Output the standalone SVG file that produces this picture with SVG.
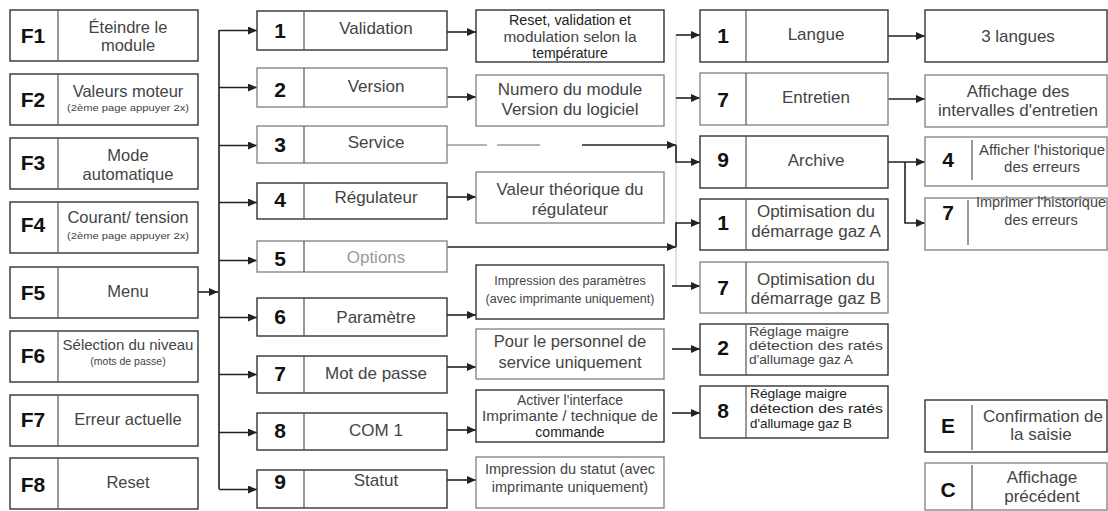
<svg xmlns="http://www.w3.org/2000/svg" width="1108" height="511" viewBox="0 0 1108 511">
<style>
.box{fill:#fff;stroke:#333;stroke-width:1.4}
.lt{stroke:#888}
.dv{stroke:#555;stroke-width:1.2}
.num{font-family:"Liberation Sans",Arial,sans-serif;font-weight:bold;font-size:21px;fill:#111;text-anchor:middle}
.lbl{font-family:"Liberation Sans",Arial,sans-serif;font-size:16.5px;fill:#444;text-anchor:middle}
.l17{font-size:17px}
.l14{font-size:14px}
.l13{font-size:13px}
.xs{font-size:9px}
.lft{text-anchor:start}
.cn{fill:none;stroke:#222;stroke-width:1.6}
.cg{fill:none;stroke:#999;stroke-width:1.4}
</style>
<defs>
<marker id="ah" markerUnits="userSpaceOnUse" markerWidth="9" markerHeight="8" refX="9" refY="4" orient="auto">
<path d="M0,0 L9,4 L0,8 z" fill="#222"/>
</marker>
</defs>
<rect width="1108" height="511" fill="#fff"/>

<g id="connectors">
<path class="cn" d="M219,30 V489"/>
<path class="cn" d="M198,292 H218" marker-end="url(#ah)"/>
<path class="cn" d="M219,30.5 H257" marker-end="url(#ah)"/>
<path class="cn" d="M219,87.5 H257" marker-end="url(#ah)"/>
<path class="cn" d="M219,145.5 H257" marker-end="url(#ah)"/>
<path class="cn" d="M219,202.5 H257" marker-end="url(#ah)"/>
<path class="cn" d="M219,260.5 H257" marker-end="url(#ah)"/>
<path class="cn" d="M219,317.5 H257" marker-end="url(#ah)"/>
<path class="cn" d="M219,374.5 H257" marker-end="url(#ah)"/>
<path class="cn" d="M219,432.5 H257" marker-end="url(#ah)"/>
<path class="cn" d="M219,489.5 H257" marker-end="url(#ah)"/>
<path class="cn" d="M447,32 H476" marker-end="url(#ah)"/>
<path class="cn" d="M447,97 H476" marker-end="url(#ah)"/>
<path class="cn" d="M447,197 H476" marker-end="url(#ah)"/>
<path class="cn" d="M447,315 H476" marker-end="url(#ah)"/>
<path class="cn" d="M447,367 H476" marker-end="url(#ah)"/>
<path class="cn" d="M447,430 H476" marker-end="url(#ah)"/>
<path class="cn" d="M447,480 H476" marker-end="url(#ah)"/>
<path d="M676,35 V286" fill="none" stroke="#ccc" stroke-width="1.2"/>
<path class="cn" d="M676,35 H700" marker-end="url(#ah)"/>
<path class="cn" d="M676,98 H700" marker-end="url(#ah)"/>
<path class="cg" d="M447,145 H487 M497,145 H540"/>
<path class="cn" d="M582,145 H676" marker-end="url(#ah)"/>
<path class="cn" d="M676,145 V162 H700" marker-end="url(#ah)"/>
<path class="cn" d="M447,247 H676" marker-end="url(#ah)"/>
<path class="cn" d="M676,247 V223 H700" marker-end="url(#ah)"/>
<path class="cn" d="M672,286 H700" marker-end="url(#ah)"/>
<path class="cn" d="M672,349 H700" marker-end="url(#ah)"/>
<path class="cn" d="M672,413 H700" marker-end="url(#ah)"/>
<path class="cn" d="M888,36 H925" marker-end="url(#ah)"/>
<path class="cn" d="M888,99 H925" marker-end="url(#ah)"/>
<path class="cn" d="M888,162 H925" marker-end="url(#ah)"/>
<path class="cn" d="M905,162 V223 H925" marker-end="url(#ah)"/>
</g>

<g id="F1"><rect class="box" x="10" y="10" width="188" height="51"/><line class="dv" x1="58" y1="10" x2="58" y2="61"/><text class="num" x="33" y="43">F1</text><text class="lbl" x="128" y="33">Éteindre le</text><text class="lbl" x="128" y="51">module</text></g>
<g id="F2"><rect class="box" x="10" y="74" width="188" height="51"/><line class="dv" x1="58" y1="74" x2="58" y2="125"/><text class="num" x="33" y="107">F2</text><text class="lbl" x="128" y="97">Valeurs moteur</text><text class="lbl xs" x="128" y="111" textLength="122" lengthAdjust="spacingAndGlyphs">(2ème page appuyer 2x)</text></g>
<g id="F3"><rect class="box" x="10" y="138" width="188" height="51"/><line class="dv" x1="58" y1="138" x2="58" y2="189"/><text class="num" x="33" y="170">F3</text><text class="lbl" x="128" y="161">Mode</text><text class="lbl" x="128" y="180">automatique</text></g>
<g id="F4"><rect class="box" x="10" y="202" width="188" height="51"/><line class="dv" x1="58" y1="202" x2="58" y2="253"/><text class="num" x="33" y="232">F4</text><text class="lbl" x="128" y="223">Courant/ tension</text><text class="lbl xs" x="128" y="239" textLength="122" lengthAdjust="spacingAndGlyphs">(2ème page appuyer 2x)</text></g>
<g id="F5"><rect class="box" x="10" y="267" width="188" height="51"/><line class="dv" x1="58" y1="267" x2="58" y2="318"/><text class="num" x="33" y="300">F5</text><text class="lbl" x="128" y="297">Menu</text></g>
<g id="F6"><rect class="box" x="10" y="331" width="188" height="51"/><line class="dv" x1="58" y1="331" x2="58" y2="382"/><text class="num" x="33" y="363">F6</text><text class="lbl" x="128" y="350" style="font-size:15px">Sélection du niveau</text><text class="lbl" x="128" y="365" style="font-size:10.5px">(mots de passe)</text></g>
<g id="F7"><rect class="box" x="10" y="395" width="188" height="51"/><line class="dv" x1="58" y1="395" x2="58" y2="446"/><text class="num" x="33" y="427">F7</text><text class="lbl" x="128" y="425">Erreur actuelle</text></g>
<g id="F8"><rect class="box" x="10" y="458" width="188" height="51"/><line class="dv" x1="58" y1="458" x2="58" y2="509"/><text class="num" x="33" y="492">F8</text><text class="lbl" x="128" y="488">Reset</text></g>

<g id="M1"><rect class="box" x="257" y="11" width="190" height="39"/><line class="dv" x1="304" y1="11" x2="304" y2="50"/><text class="num" x="280" y="38">1</text><text class="lbl l17" x="376" y="34">Validation</text></g>
<g id="M2"><rect class="box lt" x="257" y="68" width="190" height="39"/><line class="dv" x1="304" y1="68" x2="304" y2="107"/><text class="num" x="280" y="97">2</text><text class="lbl l17" x="376" y="92">Version</text></g>
<g id="M3"><rect class="box lt" x="257" y="126" width="190" height="37"/><line class="dv" x1="304" y1="126" x2="304" y2="163"/><text class="num" x="280" y="152">3</text><text class="lbl l17" x="376" y="148">Service</text></g>
<g id="M4"><rect class="box" x="257" y="183" width="190" height="36"/><line class="dv" x1="304" y1="183" x2="304" y2="219"/><text class="num" x="280" y="207">4</text><text class="lbl l17" x="376" y="203">Régulateur</text></g>
<g id="M5"><rect class="box lt" x="257" y="241" width="190" height="31"/><line class="dv" x1="304" y1="241" x2="304" y2="272"/><text class="num" x="280" y="266">5</text><text class="lbl l17" x="376" y="263" style="fill:#9a9a9a">Options</text></g>
<g id="M6"><rect class="box" x="257" y="298" width="190" height="38"/><line class="dv" x1="304" y1="298" x2="304" y2="336"/><text class="num" x="280" y="324">6</text><text class="lbl l17" x="376" y="323">Paramètre</text></g>
<g id="M7"><rect class="box" x="257" y="356" width="190" height="37"/><line class="dv" x1="304" y1="356" x2="304" y2="393"/><text class="num" x="280" y="381">7</text><text class="lbl l17" x="376" y="379">Mot de passe</text></g>
<g id="M8"><rect class="box" x="257" y="413" width="190" height="37"/><line class="dv" x1="304" y1="413" x2="304" y2="450"/><text class="num" x="280" y="438">8</text><text class="lbl l17" x="376" y="436">COM 1</text></g>
<g id="M9"><rect class="box" x="257" y="470" width="190" height="38"/><line class="dv" x1="304" y1="470" x2="304" y2="508"/><text class="num" x="280" y="489">9</text><text class="lbl l17" x="376" y="486">Statut</text></g>

<g id="D1"><rect class="box" x="476" y="10" width="188" height="52"/><text class="lbl l14" x="570" y="25" style="fill:#222" textLength="122" lengthAdjust="spacingAndGlyphs">Reset, validation et</text><text class="lbl l14" x="570" y="42" textLength="133" lengthAdjust="spacingAndGlyphs">modulation selon la</text><text class="lbl l14" x="570" y="58" style="fill:#222">température</text></g>
<g id="D2"><rect class="box lt" x="476" y="75" width="188" height="51"/><text class="lbl l17" x="570" y="95">Numero du module</text><text class="lbl l17" x="570" y="115">Version du logiciel</text></g>
<g id="D4"><rect class="box lt" x="476" y="172" width="188" height="51"/><text class="lbl l17" x="570" y="195">Valeur théorique du</text><text class="lbl l17" x="570" y="215">régulateur</text></g>
<g id="D6"><rect class="box" x="476" y="265" width="188" height="54"/><text class="lbl" style="font-size:12.5px" x="570" y="285">Impression des paramètres</text><text class="lbl" style="font-size:12.5px" x="570" y="303">(avec imprimante uniquement)</text></g>
<g id="D7"><rect class="box lt" x="476" y="329" width="188" height="50"/><text class="lbl" x="570" y="347">Pour le personnel de</text><text class="lbl" x="570" y="368">service uniquement</text></g>
<g id="D8"><rect class="box" x="476" y="390" width="188" height="52"/><text class="lbl l14" x="570" y="405">Activer l'interface</text><text class="lbl l14" x="570" y="421" textLength="176" lengthAdjust="spacingAndGlyphs">Imprimante / technique de</text><text class="lbl l14" x="570" y="437" style="fill:#222">commande</text></g>
<g id="D9"><rect class="box lt" x="476" y="457" width="188" height="51"/><text class="lbl" style="font-size:14.5px" x="570" y="474">Impression du statut (avec</text><text class="lbl" style="font-size:14.5px" x="570" y="492">imprimante uniquement)</text></g>

<g id="S1"><rect class="box" x="700" y="10" width="188" height="52"/><line class="dv" x1="746" y1="10" x2="746" y2="62"/><text class="num" x="723" y="43">1</text><text class="lbl l17" x="816" y="40">Langue</text></g>
<g id="S7"><rect class="box lt" x="700" y="73" width="188" height="52"/><line class="dv" x1="746" y1="73" x2="746" y2="125"/><text class="num" x="723" y="107">7</text><text class="lbl l17" x="816" y="103">Entretien</text></g>
<g id="S9"><rect class="box" x="700" y="136" width="188" height="52"/><line class="dv" x1="746" y1="136" x2="746" y2="188"/><text class="num" x="723" y="167">9</text><text class="lbl l17" x="816" y="166">Archive</text></g>
<g id="O1"><rect class="box" x="700" y="199" width="188" height="51"/><line class="dv" x1="746" y1="199" x2="746" y2="250"/><text class="num" x="723" y="230">1</text><text class="lbl l17" x="816" y="217">Optimisation du</text><text class="lbl l17" x="816" y="237">démarrage gaz A</text></g>
<g id="O7"><rect class="box lt" x="700" y="262" width="188" height="51"/><line class="dv" x1="746" y1="262" x2="746" y2="313"/><text class="num" x="723" y="295">7</text><text class="lbl l17" x="816" y="285">Optimisation du</text><text class="lbl l17" x="816" y="304">démarrage gaz B</text></g>
<g id="R2"><rect class="box" x="700" y="324" width="188" height="51"/><line class="dv" x1="746" y1="324" x2="746" y2="375"/><text class="num" x="723" y="355">2</text><text class="lbl l13 lft" x="749" y="336" textLength="100" lengthAdjust="spacingAndGlyphs">Réglage maigre</text><text class="lbl l13 lft" x="749" y="350" textLength="134" lengthAdjust="spacingAndGlyphs">détection des ratés</text><text class="lbl l13 lft" x="749" y="364" textLength="104" lengthAdjust="spacingAndGlyphs">d'allumage gaz A</text></g>
<g id="R8"><rect class="box" x="700" y="386" width="188" height="52"/><line class="dv" x1="746" y1="386" x2="746" y2="438"/><text class="num" x="723" y="418">8</text><text class="lbl l13 lft" x="750" y="398" style="fill:#222" textLength="97" lengthAdjust="spacingAndGlyphs">Réglage maigre</text><text class="lbl l13 lft" x="750" y="413" style="fill:#222" textLength="133" lengthAdjust="spacingAndGlyphs">détection des ratés</text><text class="lbl l13 lft" x="750" y="428" style="fill:#222" textLength="102" lengthAdjust="spacingAndGlyphs">d'allumage gaz B</text></g>

<g id="L3"><rect class="box" x="925" y="10" width="182" height="52"/><text class="lbl l17" x="1018" y="42">3 langues</text></g>
<g id="AI"><rect class="box lt" x="925" y="75" width="182" height="52"/><text class="lbl l17" x="1018" y="97">Affichage des</text><text class="lbl l17" x="1018" y="116">intervalles d'entretien</text></g>
<g id="H4"><rect class="box lt" x="925" y="137" width="182" height="49"/><line class="dv" x1="972" y1="140" x2="972" y2="180"/><text class="num" x="948" y="167">4</text><text class="lbl" x="1042" y="155" style="font-size:15px">Afficher l'historique</text><text class="lbl" x="1042" y="172" style="font-size:15px">des erreurs</text></g>
<g id="H7"><rect class="box lt" x="925" y="198" width="182" height="52"/><line class="dv" x1="968" y1="200" x2="968" y2="245"/><text class="num" x="948" y="220">7</text><text class="lbl" x="1041" y="207" style="font-size:14.5px">Imprimer l'historique</text><text class="lbl" x="1041" y="225" style="font-size:14.5px">des erreurs</text></g>
<g id="E"><rect class="box" x="925" y="400" width="182" height="52"/><line class="dv" x1="972" y1="405" x2="972" y2="450"/><text class="num" x="948" y="433">E</text><text class="lbl l17" x="1043" y="422">Confirmation de</text><text class="lbl l17" x="1041" y="440">la saisie</text></g>
<g id="C"><rect class="box lt" x="925" y="463" width="182" height="47"/><line class="dv" x1="972" y1="465" x2="972" y2="510"/><text class="num" x="948" y="497">C</text><text class="lbl l17" x="1042" y="483">Affichage</text><text class="lbl l17" x="1042" y="502">précédent</text></g>
</svg>
